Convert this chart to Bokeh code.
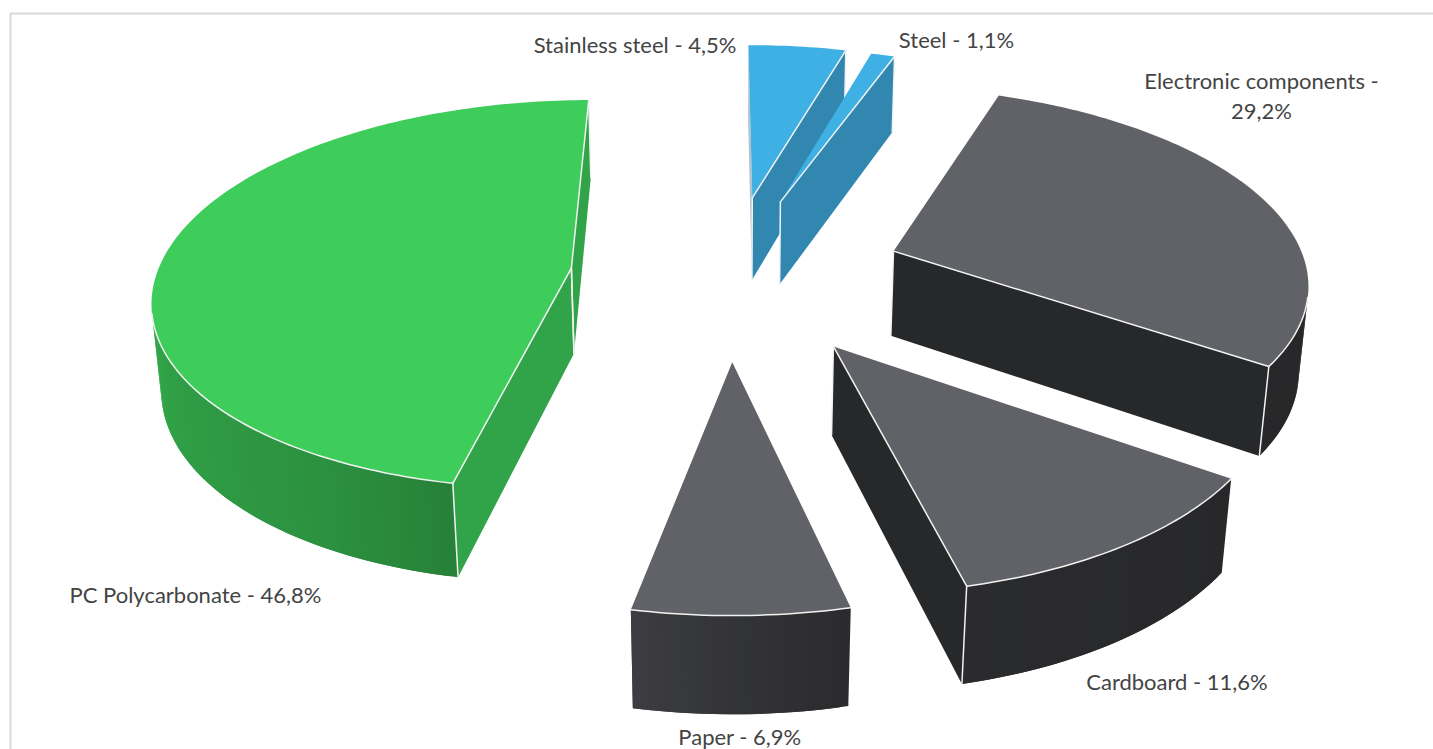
import math

from bokeh.core.properties import value
from bokeh.embed import file_html
from bokeh.models import ColumnDataSource, Range1d
from bokeh.plotting import figure
from bokeh.resources import INLINE

# Material shares, clockwise from the top of the pie
materials = ["Stainless steel", "Steel", "Electronic components", "Cardboard", "Paper", "PC Polycarbonate"]
shares = [4.5, 1.1, 29.2, 11.6, 6.9, 46.8]
explode = [0.4295, 0.4224, 0.4227, 0.4256, 0.4261, 0.3843]

top_colors = ["#3FB0E4", "#3FB0E4", "#616267", "#616267", "#616267", "#3ECD5A"]
start_wall_colors = ["#B4C2CC", "#3187B0", "#27282A", "#27282A", "#27282A", "#31A349"]
end_wall_colors = ["#3187B0", "#3187B0", "#27282A", "#27282A", "#27282A", "#31A349"]

# Brightness of the curved rim against the top face, by compass angle
rim_angles = [0, 125, 167, 180, 192, 210, 240, 270, 360]
rim_light = [0.41, 0.41, 0.44, 0.53, 0.63, 0.71, 0.77, 0.84, 0.85]

# Camera for the tilted view (pie radius = 1)
CENTER_X, CENTER_Y = 728.7, 274.8
FOCAL, DISTANCE = 2715.4, 6.547
PITCH = 0.4829
THICKNESS = 0.237
FIRST_ANGLE = -0.0037

EDGE = "#F2F2F2"
FRAME = "#D9D9D9"
TEXT = "#444444"


def project(x, y, z):
    s, c = math.sin(PITCH), math.cos(PITCH)
    depth = DISTANCE + y * c - z * s
    return CENTER_X + FOCAL * x / depth, CENTER_Y - FOCAL * (y * s + z * c) / depth


def rgb(hex_color):
    return [int(hex_color[i:i + 2], 16) for i in (1, 3, 5)]


def scaled(hex_color, k):
    return "#%02X%02X%02X" % tuple(min(255, round(v * k)) for v in rgb(hex_color))


def rim_brightness(angle):
    deg = math.degrees(angle) % 360
    for i in range(len(rim_angles) - 1):
        if rim_angles[i] <= deg <= rim_angles[i + 1]:
            t = (deg - rim_angles[i]) / (rim_angles[i + 1] - rim_angles[i])
            return rim_light[i] + t * (rim_light[i + 1] - rim_light[i])
    return rim_light[-1]


cam_y = -DISTANCE * math.cos(PITCH)
total = sum(shares)

faces = dict(xs=[], ys=[], fill=[], alpha=[], line=[], width=[])


def add_face(points, fill):
    pts = [project(*q) for q in points]
    faces["xs"].append([q[0] for q in pts])
    faces["ys"].append([q[1] for q in pts])
    faces["fill"].append(fill)
    faces["alpha"].append(1.0)
    faces["line"].append(None)
    faces["width"].append(0)


def add_stroke(points, width=1.5):
    # An open polyline walked there and back, so the closing segment stays on it
    pts = [project(*q) for q in points]
    pts = pts + pts[-2::-1]
    faces["xs"].append([q[0] for q in pts])
    faces["ys"].append([q[1] for q in pts])
    faces["fill"].append("#FFFFFF")
    faces["alpha"].append(0.0)
    faces["line"].append(EDGE)
    faces["width"].append(width)


def draw_slice(a0, a1, offset, top, start_wall, end_wall):
    mid = (a0 + a1) / 2
    ox, oy = offset * math.sin(mid), offset * math.cos(mid)
    steps = max(4, int((a1 - a0) / math.radians(1.0)))
    arc = [a0 + (a1 - a0) * k / steps for k in range(steps + 1)]
    rim = [(ox + math.sin(a), oy + math.cos(a)) for a in arc]
    h = -THICKNESS
    strokes = []

    # Flat cut walls, only when they face the camera
    cuts = ((a0, -math.cos(a0), math.sin(a0), start_wall), (a1, math.cos(a1), -math.sin(a1), end_wall))
    for a, nx, ny, wall in cuts:
        if -ox * nx + (cam_y - oy) * ny > 0:
            ex, ey = ox + math.sin(a), oy + math.cos(a)
            add_face([(ox, oy, 0), (ex, ey, 0), (ex, ey, h), (ox, oy, h)], wall)
            if wall == end_wall:
                strokes.append([(ox, oy, 0), (ex, ey, 0)])
                strokes.append([(ex, ey, 0), (ex, ey, h)])
                strokes.append([(ox, oy, 0), (ox, oy, h)])

    # Curved rim as narrow strips; each one runs under the next so no seams show
    seen = [k for k in range(steps)
            if -rim[k][0] * math.sin((arc[k] + arc[k + 1]) / 2)
            + (cam_y - rim[k][1]) * math.cos((arc[k] + arc[k + 1]) / 2) > 0]
    for k in seen:
        a = (arc[k] + arc[k + 1]) / 2
        x0, y0 = rim[k]
        x1, y1 = rim[min(k + 2, seen[-1] + 1)]
        add_face([(x0, y0, 0), (x1, y1, 0), (x1, y1, h), (x0, y0, h)], scaled(top, rim_brightness(a)))
    if seen:
        strokes.append([(x, y, 0) for x, y in rim[seen[0]:seen[-1] + 2]])

    add_face([(ox, oy, 0)] + [(x, y, 0) for x, y in rim], top)
    for line in strokes:
        add_stroke(line)


slices = []
angle = FIRST_ANGLE
for share, offset, top, start_wall, end_wall in zip(shares, explode, top_colors, start_wall_colors, end_wall_colors):
    step = share / total * 2 * math.pi
    slices.append((angle, angle + step, offset, top, start_wall, end_wall))
    angle += step

# The large green slice goes first, then the others run clockwise from the back
for spec in [slices[5]] + slices[:5]:
    draw_slice(*spec)

p = figure(width=1433, height=749, x_range=Range1d(0, 1433), y_range=Range1d(749, 0),
           x_axis_type=None, y_axis_type=None, toolbar_location=None,
           output_backend="svg", min_border=0, outline_line_color=None,
           background_fill_color="#FFFFFF", border_fill_color="#FFFFFF")
p.grid.visible = False

# Chart frame: only its top and left edges fall inside the page
p.line([10, 10, 1433], [749, 13, 13], line_color=FRAME, line_width=2)

p.patches("xs", "ys", source=ColumnDataSource(faces), fill_color="fill", fill_alpha="alpha",
          line_color="line", line_width="width", line_join="round")


def pct(v):
    return f"{v:.1f}".replace(".", ",") + "%"


label_x = [634.5, 956, 1261, 1176.5, 739.5, 195]
label_y = [44, 39, 80, 681, 736, 594]
label_rows = dict(x=[], y=[], t=[])
for x, y, m, v in zip(label_x, label_y, materials, shares):
    if m == "Electronic components":
        label_rows["x"] += [x, x]
        label_rows["y"] += [y, y + 30]
        label_rows["t"] += [f"{m} -", pct(v)]
    else:
        label_rows["x"].append(x)
        label_rows["y"].append(y)
        label_rows["t"].append(f"{m} - {pct(v)}")

p.text("x", "y", text="t", source=ColumnDataSource(label_rows), text_align="center",
       text_baseline="middle", text_color=TEXT, text_font=value("Lato"), text_font_size="22px")

open("out.html", "w").write(file_html(p, INLINE))
